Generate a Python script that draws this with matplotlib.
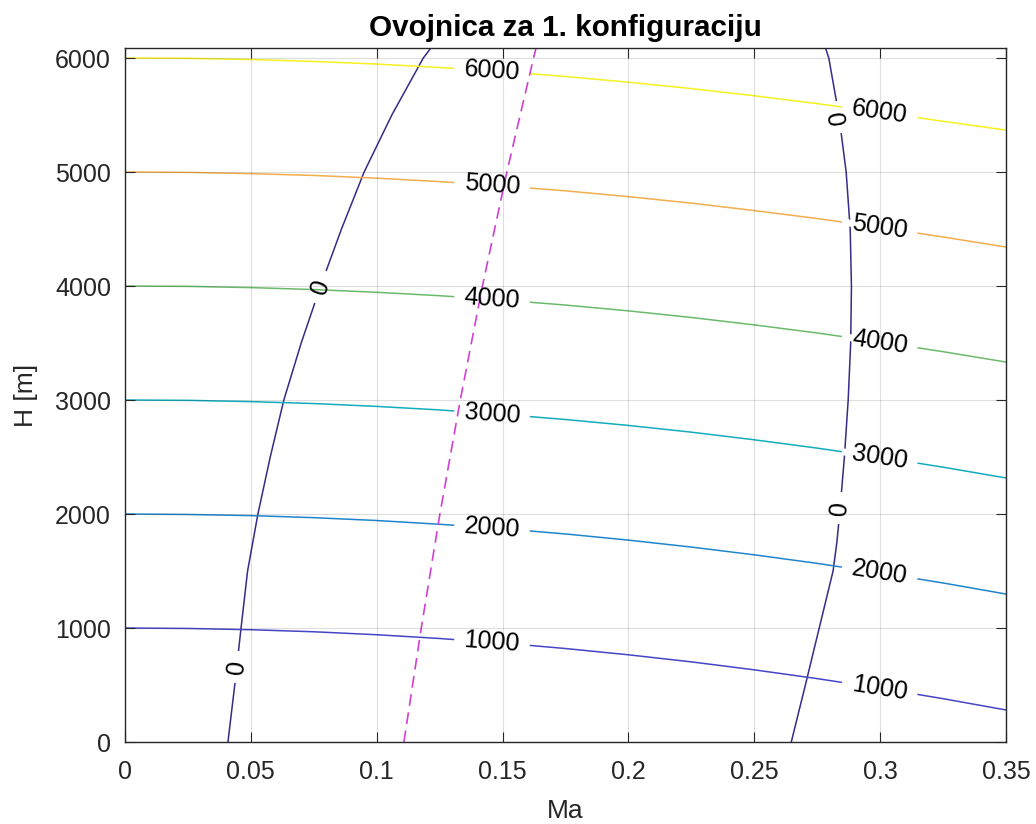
import numpy as np
import matplotlib
matplotlib.use("Agg")
import matplotlib.pyplot as plt

plt.rcParams['font.family'] = ['Liberation Sans', 'DejaVu Sans']

# ---------------- data ----------------
x_ticks = [0, 0.05, 0.1, 0.15, 0.2, 0.25, 0.3, 0.35]
x_tick_labels = ['0', '0.05', '0.1', '0.15', '0.2', '0.25', '0.3', '0.35']
y_ticks = [0, 1000, 2000, 3000, 4000, 5000, 6000]
y_tick_labels = ['0', '1000', '2000', '3000', '4000', '5000', '6000']

# Mach points along the altitude contours
ma_grid = [0, 0.025, 0.05, 0.075, 0.1, 0.125, 0.15, 0.175, 0.2,
           0.225, 0.25, 0.275, 0.3, 0.325, 0.35]
h_1000 = [1000, 996, 985, 967, 941, 908, 868, 820, 765, 703, 633, 556, 472, 380, 281]
h_2000 = [2000, 1996, 1986, 1968, 1943, 1910, 1871, 1825, 1771, 1710, 1642, 1567, 1484, 1395, 1298]
h_3000 = [3000, 2997, 2986, 2969, 2944, 2913, 2874, 2829, 2777, 2718, 2651, 2578, 2498, 2411, 2316]
h_4000 = [4000, 3997, 3986, 3969, 3945, 3915, 3877, 3833, 3782, 3724, 3659, 3588, 3509, 3424, 3333]
h_5000 = [5000, 4997, 4986, 4970, 4946, 4916, 4878, 4835, 4784, 4727, 4662, 4592, 4514, 4430, 4342]
h_6000 = [6000, 5997, 5987, 5970, 5947, 5917, 5881, 5838, 5788, 5732, 5669, 5600, 5525, 5445, 5368]
contour_levels = [1000, 2000, 3000, 4000, 5000, 6000]

# zero contour, left branch (H, Ma)
zero_left_h = [0, 500, 1000, 1500, 2000, 2500, 3000, 3500, 4000, 4500, 5000, 5500, 6000, 6088]
zero_left_ma = [0.0409, 0.0436, 0.0461, 0.0487, 0.0528, 0.0577, 0.0631, 0.0700, 0.0777,
                0.0860, 0.0950, 0.1060, 0.1185, 0.1215]
# zero contour, right branch (H, Ma)
zero_right_h = [0, 500, 1000, 1500, 1750, 2000, 2500, 3000, 3500, 4000, 4500, 5000, 5500, 6000, 6088]
zero_right_ma = [0.2647, 0.2703, 0.2758, 0.2813, 0.2828, 0.2839, 0.2858, 0.2873, 0.2883,
                 0.2886, 0.2881, 0.2865, 0.2836, 0.2796, 0.2783]
# magenta dashed line (H, Ma)
dash_h = [0, 1000, 2000, 3000, 4000, 5000, 6000, 6088]
dash_ma = [0.1108, 0.1177, 0.1251, 0.1332, 0.1420, 0.1517, 0.1623, 0.1633]

# label placement (Ma centre of gaps on altitude contours, H of labels on zero contour)
label_ma_left = 0.1458
label_ma_right = 0.2998
zero_label_left_h = [658, 3991]
zero_label_right_h = [2052, 5482]

# ---------------- styling ----------------
level_colors = [(0.27, 0.27, 0.78), (0.12, 0.52, 0.80), (0.07, 0.68, 0.74),
                (0.42, 0.73, 0.42), (0.95, 0.68, 0.30), (0.96, 0.94, 0.12)]
zero_color = (0.21, 0.17, 0.53)
dash_color = (0.82, 0.25, 0.82)
axcol = (0.15, 0.15, 0.15)
FS = 18

fig = plt.figure(figsize=(10.36, 8.24), dpi=100)
ax = fig.add_axes([125 / 1036, 1 - 742 / 824, (1006 - 125) / 1036, (742 - 48) / 824])
ax.set_xlim(0, 0.35)
ax.set_ylim(0, 6088)
ax.set_xticks(x_ticks)
ax.set_xticklabels(x_tick_labels)
ax.set_yticks(y_ticks)
ax.set_yticklabels(y_tick_labels)
ax.tick_params(direction='in', length=7, width=0.8, top=True, right=True,
               labelsize=FS, colors=axcol)
ax.tick_params(axis='x', pad=13)
ax.tick_params(axis='y', pad=10)
for s in ax.spines.values():
    s.set_color(axcol)
    s.set_linewidth(1.0)
ax.grid(True, color=axcol, alpha=0.15, lw=0.8)
ax.set_axisbelow(False)

ax.set_title('Ovojnica za 1. konfiguraciju', fontsize=21.3, fontweight='bold', pad=9)
ax.set_xlabel('Ma', fontsize=19, color=axcol, labelpad=11)
ax.set_ylabel('H [m]', fontsize=19, color=axcol, labelpad=12)


def sub_path(u, v, a, b):
    u = np.asarray(u, float)
    v = np.asarray(v, float)
    inner = (u > a) & (u < b)
    uu = np.concatenate([[a], u[inner], [b]])
    vv = np.concatenate([[np.interp(a, u, v)], v[inner], [np.interp(b, u, v)]])
    return uu, vv


def screen_angle(x0, y0, x1, y1):
    p0 = ax.transData.transform((x0, y0))
    p1 = ax.transData.transform((x1, y1))
    return np.degrees(np.arctan2(p1[1] - p0[1], p1[0] - p0[0]))


# zero contour lines + gaps
for hh, mm, lab_hs in [(zero_left_h, zero_left_ma, zero_label_left_h),
                       (zero_right_h, zero_right_ma, zero_label_right_h)]:
    ax.plot(mm, hh, color=zero_color, lw=1.1, zorder=2.0)
    for lh in lab_hs:
        gu, gv = sub_path(hh, mm, lh - 140, lh + 140)
        ax.plot(gv, gu, color='white', lw=5, solid_capstyle='butt', zorder=2.05)
        ang = screen_angle(np.interp(lh - 100, hh, mm), lh - 100,
                           np.interp(lh + 100, hh, mm), lh + 100)
        ax.text(np.interp(lh, hh, mm), lh, '0', fontsize=FS, rotation=ang,
                rotation_mode='anchor', ha='center', va='center', zorder=2.3)

# altitude contours + gaps
series = [h_1000, h_2000, h_3000, h_4000, h_5000, h_6000]
gap_half = 0.0150
for lev, hv, col in zip(contour_levels, series, level_colors):
    ax.plot(ma_grid, hv, color=col, lw=1.1, zorder=2.1)
    for cm in (label_ma_left, label_ma_right):
        gu, gv = sub_path(ma_grid, hv, cm - gap_half, cm + gap_half)
        ax.plot(gu, gv, color='white', lw=5, solid_capstyle='butt', zorder=2.15)
        ang = screen_angle(cm - 0.005, np.interp(cm - 0.005, ma_grid, hv),
                           cm + 0.005, np.interp(cm + 0.005, ma_grid, hv))
        ax.text(cm, np.interp(cm, ma_grid, hv), str(lev), fontsize=FS, rotation=ang,
                rotation_mode='anchor', ha='center', va='center', zorder=2.3)

# dashed magenta line
ax.plot(dash_ma, dash_h, color=dash_color, lw=1.2, dashes=(7, 4), zorder=2.2)

fig.savefig('out.png', dpi=100, facecolor='white')
